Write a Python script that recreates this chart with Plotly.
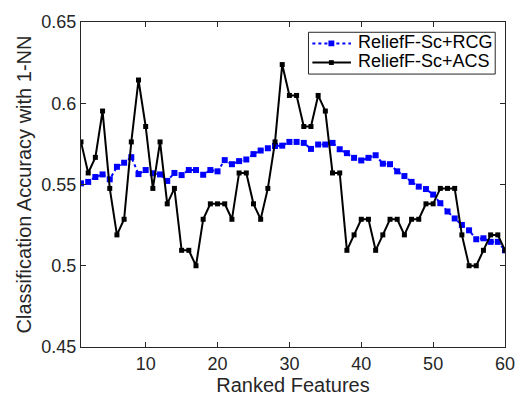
import plotly.graph_objects as go

# Number of ranked features (x) and the 1-NN accuracy of each method
features = list(range(1, 61))

acc_rcg = [
    0.5507, 0.5516, 0.5546, 0.5562, 0.5532, 0.5609, 0.5634, 0.5668, 0.5564, 0.5589,
    0.5569, 0.5562, 0.5522, 0.5571, 0.5558, 0.5589, 0.5589, 0.5560, 0.5589, 0.5581,
    0.5650, 0.5625, 0.5644, 0.5654, 0.5687, 0.5709, 0.5723, 0.5737, 0.5739, 0.5762,
    0.5762, 0.5756, 0.5719, 0.5746, 0.5746, 0.5756, 0.5717, 0.5693, 0.5664, 0.5648,
    0.5664, 0.5680, 0.5628, 0.5625, 0.5581, 0.5552, 0.5516, 0.5487, 0.5472, 0.5438,
    0.5385, 0.5334, 0.5291, 0.5251, 0.5218, 0.5163, 0.5169, 0.5147, 0.5147, 0.5095,
]

acc_acs = [
    0.5762, 0.5571, 0.5667, 0.5952, 0.5476, 0.5190, 0.5286, 0.5762, 0.6143, 0.5857,
    0.5476, 0.5762, 0.5381, 0.5476, 0.5095, 0.5095, 0.5000, 0.5286, 0.5381, 0.5381,
    0.5381, 0.5286, 0.5571, 0.5571, 0.5381, 0.5286, 0.5476, 0.5762, 0.6238, 0.6048,
    0.6048, 0.5857, 0.5857, 0.6048, 0.5952, 0.5571, 0.5571, 0.5095, 0.5190, 0.5286,
    0.5286, 0.5095, 0.5190, 0.5286, 0.5286, 0.5190, 0.5286, 0.5286, 0.5381, 0.5381,
    0.5476, 0.5476, 0.5476, 0.5190, 0.5000, 0.5000, 0.5095, 0.5190, 0.5190, 0.5095,
]

series_names = ["ReliefF-Sc+RCG", "ReliefF-Sc+ACS"]
series_colors = ["#0000ff", "#000000"]

x_ticks = [10, 20, 30, 40, 50, 60]
y_ticks = [0.45, 0.5, 0.55, 0.6, 0.65]
y_tick_text = ["0.45", "0.5", "0.55", "0.6", "0.65"]

FONT = "Liberation Sans, Arial, Helvetica, sans-serif"
AXIS_GREY = "#262626"

fig = go.Figure()

fig.add_trace(go.Scatter(
    x=features, y=acc_rcg, name=series_names[0],
    mode="lines+markers",
    line=dict(color=series_colors[0], width=2, dash="dot"),
    marker=dict(symbol="square", size=6, color=series_colors[0]),
))

fig.add_trace(go.Scatter(
    x=features, y=acc_acs, name=series_names[1],
    mode="lines+markers",
    line=dict(color=series_colors[1], width=2),
    marker=dict(symbol="square", size=5, color=series_colors[1]),
))

axis_common = dict(
    showgrid=False, zeroline=False,
    showline=True, linecolor=AXIS_GREY, linewidth=1, mirror="ticks",
    ticks="inside", ticklen=5, tickcolor=AXIS_GREY, tickwidth=1,
    tickfont=dict(family=FONT, size=18, color=AXIS_GREY),
)

fig.update_xaxes(
    range=[1, 60], tickvals=x_ticks,
    title=dict(text="Ranked Features", font=dict(family=FONT, size=20, color=AXIS_GREY), standoff=5),
    **axis_common,
)
fig.update_yaxes(
    range=[0.45, 0.65], tickvals=y_ticks, ticktext=y_tick_text,
    title=dict(text="Classification Accuracy with 1-NN", font=dict(family=FONT, size=20, color=AXIS_GREY), standoff=4),
    **axis_common,
)

# Compact boxed legend in the upper right of the axes (paper coordinates)
box = dict(x0=0.5365, x1=0.9769, y0=0.8398, y1=0.9684)
row_y = [0.9342, 0.8752]
sample_x0, sample_x1, sample_mid = 0.5457, 0.6367, 0.5905
text_x = 0.6482
mk_w = [3.0 / 433, 2.5 / 433]
mk_h = [3.0 / 339, 2.5 / 339]
dashes = ["dot", "solid"]

shapes = [dict(
    type="rect", xref="paper", yref="paper", layer="above",
    x0=box["x0"], x1=box["x1"], y0=box["y0"], y1=box["y1"],
    line=dict(color=AXIS_GREY, width=1), fillcolor="white",
)]
annotations = []
for i, name in enumerate(series_names):
    shapes.append(dict(
        type="line", xref="paper", yref="paper", layer="above",
        x0=sample_x0, x1=sample_x1, y0=row_y[i], y1=row_y[i],
        line=dict(color=series_colors[i], width=2, dash=dashes[i]),
    ))
    shapes.append(dict(
        type="rect", xref="paper", yref="paper", layer="above",
        x0=sample_mid - mk_w[i], x1=sample_mid + mk_w[i],
        y0=row_y[i] - mk_h[i], y1=row_y[i] + mk_h[i],
        line=dict(width=0), fillcolor=series_colors[i],
    ))
    annotations.append(dict(
        text=name, xref="paper", yref="paper",
        x=text_x, y=row_y[i] + 0.004, xanchor="left", yanchor="middle",
        showarrow=False, font=dict(family=FONT, size=18, color="#000000"),
    ))

fig.update_layout(
    width=527, height=405,
    margin=dict(l=81, r=13, t=15, b=51),
    paper_bgcolor="white", plot_bgcolor="white",
    showlegend=False,
    shapes=shapes,
    annotations=annotations,
)

fig.write_html("out.html")
